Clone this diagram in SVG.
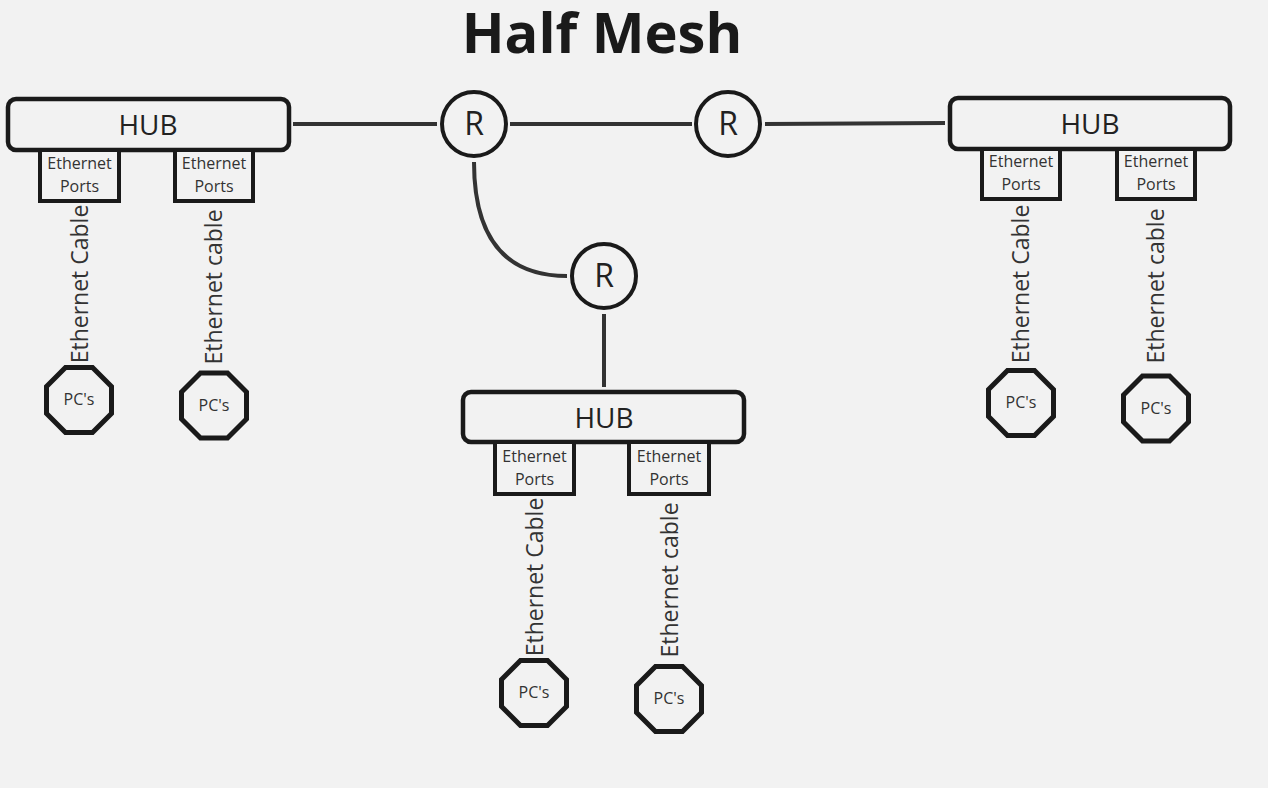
<svg xmlns="http://www.w3.org/2000/svg" xmlns:xlink="http://www.w3.org/1999/xlink" width="1268" height="788" viewBox="0 0 1268 788">
<style>
text{font-family:"Open Sans","Noto Sans","Liberation Sans",sans-serif;fill:#222;text-anchor:middle}
.hub{fill:#f2f2f2;stroke:#1a1a1a;stroke-width:4.5}
.port{fill:#f2f2f2;stroke:#1a1a1a;stroke-width:4}
.pc{fill:#f2f2f2;stroke:#1a1a1a;stroke-width:5}
.rt{fill:#f2f2f2;stroke:#1a1a1a;stroke-width:4}
.conn{fill:none;stroke:#333;stroke-width:4}
.hubt{font-size:28px}
.portt{font-size:16px;fill:#333}
.cab{font-size:23px;fill:#333}
.pct{font-size:16px;fill:#333}
.rtt{font-size:32px}
</style>
<defs>
<polygon id="oct" points="-13.5,-32.5 13.5,-32.5 32.5,-13.5 32.5,13.5 13.5,32.5 -13.5,32.5 -32.5,13.5 -32.5,-13.5"/>
</defs>
<rect width="1268" height="788" fill="#f2f2f2"/>
<text x="602" y="53" style="font-size:56px;font-weight:bold;fill:#1a1a1a">Half Mesh</text>
<g id="connectors">
<line class="conn" x1="293" y1="124" x2="437" y2="124"/>
<line class="conn" x1="510" y1="124" x2="692" y2="124"/>
<line class="conn" x1="765" y1="124" x2="945" y2="123"/>
<path class="conn" d="M474,162 Q474,276 567,276"/>
<line class="conn" x1="604" y1="314" x2="604" y2="387"/>
</g>
<g id="hub-left">
<rect class="hub" x="8" y="99" width="281" height="51" rx="8"/>
<text class="hubt" x="148" y="135">HUB</text>
</g>
<g id="port-left-1">
<rect class="port" x="40" y="150" width="79" height="51"/>
<text class="portt" x="79.500" y="169">Ethernet</text><text class="portt" x="79.500" y="192">Ports</text>
</g>
<g id="port-left-2">
<rect class="port" x="175" y="150" width="78" height="51"/>
<text class="portt" x="214" y="169">Ethernet</text><text class="portt" x="214" y="192">Ports</text>
</g>
<g id="cable-left-1"><text class="cab" transform="translate(88,284) rotate(-90)">Ethernet Cable</text></g>
<g id="cable-left-2"><text class="cab" transform="translate(222,287) rotate(-90)">Ethernet cable</text></g>
<g id="pc-left-1"><use xlink:href="#oct" class="pc" transform="translate(79,400)"/><text class="pct" x="79" y="405">PC's</text></g>
<g id="pc-left-2"><use xlink:href="#oct" class="pc" transform="translate(214,405.500)"/><text class="pct" x="214" y="411">PC's</text></g>
<g id="router-1"><circle class="rt" cx="474" cy="124" r="32"/><text class="rtt" x="474" y="135">R</text></g>
<g id="router-2"><circle class="rt" cx="728" cy="124" r="32"/><text class="rtt" x="728" y="135">R</text></g>
<g id="router-3"><circle class="rt" cx="604" cy="276" r="32"/><text class="rtt" x="604" y="287">R</text></g>
<g id="hub-right">
<rect class="hub" x="950" y="98" width="280" height="51" rx="8"/>
<text class="hubt" x="1090" y="134">HUB</text>
</g>
<g id="port-right-1">
<rect class="port" x="982" y="149" width="78" height="50"/>
<text class="portt" x="1021" y="167">Ethernet</text><text class="portt" x="1021" y="190">Ports</text>
</g>
<g id="port-right-2">
<rect class="port" x="1117" y="149" width="78" height="50"/>
<text class="portt" x="1156" y="167">Ethernet</text><text class="portt" x="1156" y="190">Ports</text>
</g>
<g id="cable-right-1"><text class="cab" transform="translate(1029,284) rotate(-90)">Ethernet Cable</text></g>
<g id="cable-right-2"><text class="cab" transform="translate(1164,286) rotate(-90)">Ethernet cable</text></g>
<g id="pc-right-1"><use xlink:href="#oct" class="pc" transform="translate(1021,403)"/><text class="pct" x="1021" y="408">PC's</text></g>
<g id="pc-right-2"><use xlink:href="#oct" class="pc" transform="translate(1156,408.500)"/><text class="pct" x="1156" y="414">PC's</text></g>
<g id="hub-middle">
<rect class="hub" x="463" y="392" width="281" height="50" rx="8"/>
<text class="hubt" x="604" y="428">HUB</text>
</g>
<g id="port-middle-1">
<rect class="port" x="495" y="442" width="79" height="52"/>
<text class="portt" x="534.500" y="462">Ethernet</text><text class="portt" x="534.500" y="485">Ports</text>
</g>
<g id="port-middle-2">
<rect class="port" x="629" y="442" width="80" height="52"/>
<text class="portt" x="669" y="462">Ethernet</text><text class="portt" x="669" y="485">Ports</text>
</g>
<g id="cable-middle-1"><text class="cab" transform="translate(543,577) rotate(-90)">Ethernet Cable</text></g>
<g id="cable-middle-2"><text class="cab" transform="translate(678,580) rotate(-90)">Ethernet cable</text></g>
<g id="pc-middle-1"><use xlink:href="#oct" class="pc" transform="translate(534,693)"/><text class="pct" x="534" y="698">PC's</text></g>
<g id="pc-middle-2"><use xlink:href="#oct" class="pc" transform="translate(669,699)"/><text class="pct" x="669" y="704">PC's</text></g>
</svg>
